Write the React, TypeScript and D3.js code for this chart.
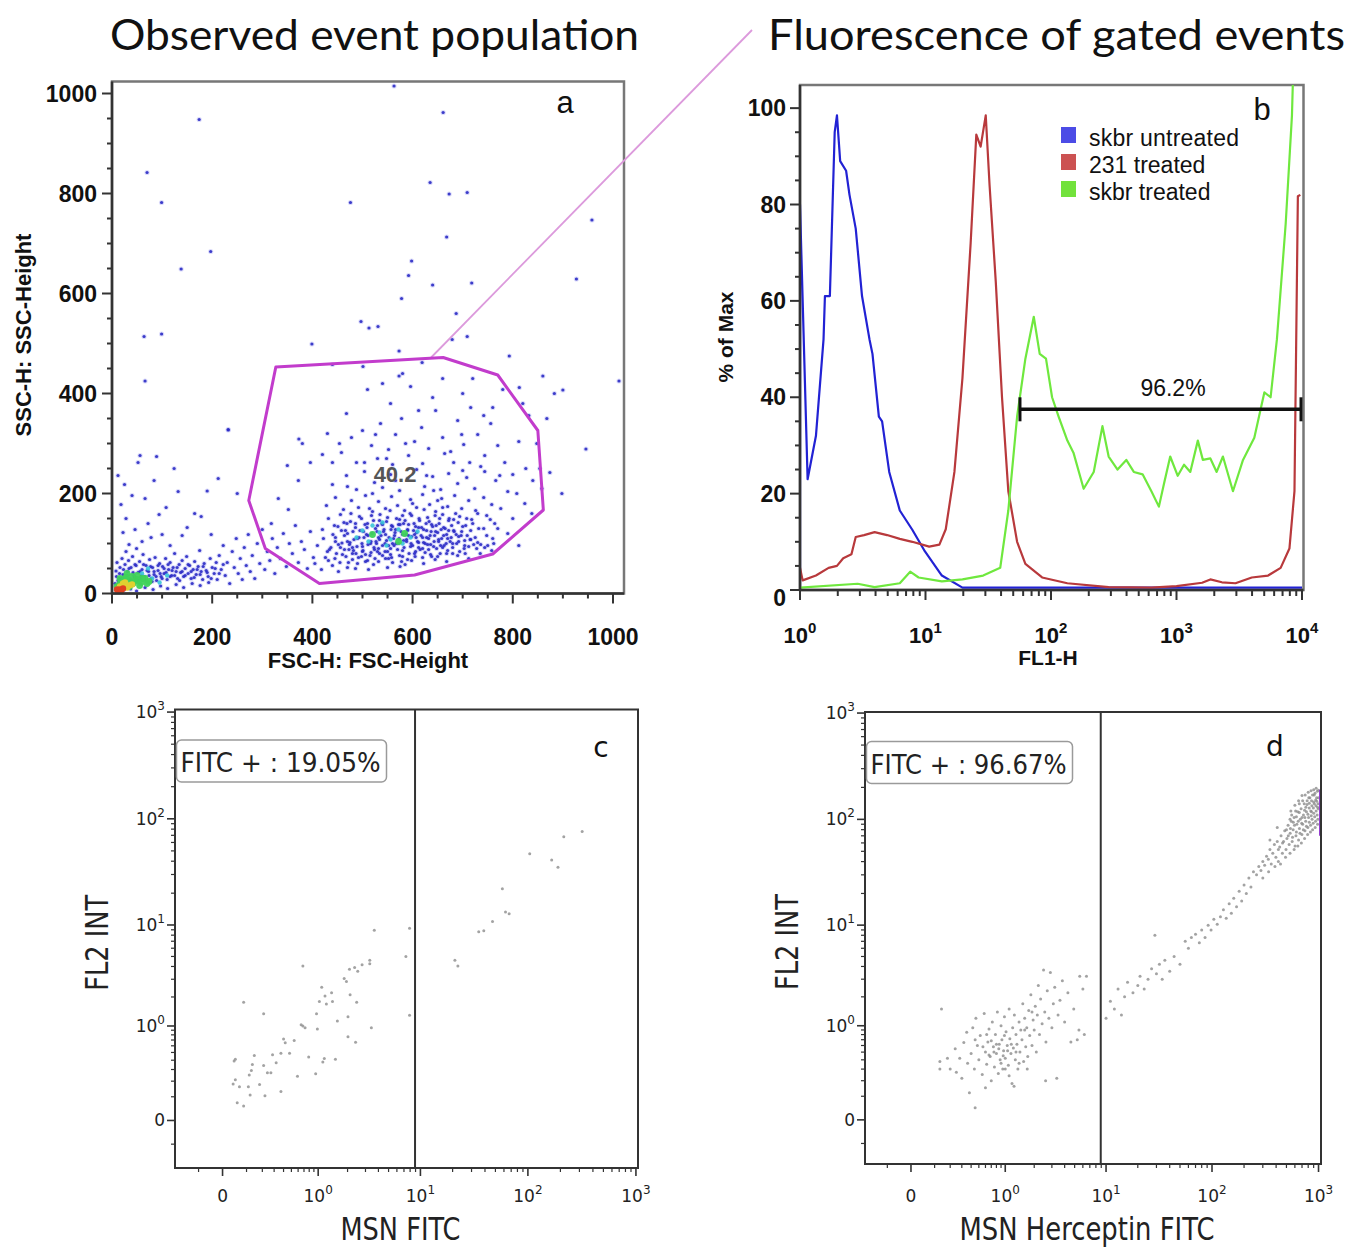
import React from 'react';
import * as d3 from 'd3';

type Pt = [number, number];

// ---------------- panel a : FSC / SSC dot plot ----------------
const aTickValues = [0, 200, 400, 600, 800, 1000];

// sparse / blue events
const aEvents: Pt[] = [
  // lower-left debris
  [8,45],[10,62],[14,30],[16,52],[20,70],[22,38],[26,58],[28,84],[31,44],[33,66],[36,28],[38,52],[41,74],[44,36],[46,58],[49,90],
  [52,42],[55,64],[57,30],[60,48],[62,78],[65,34],[68,56],[70,22],[73,44],[75,68],[78,30],[81,52],[84,38],[86,72],[89,26],[92,46],
  [95,60],[98,34],[101,54],[104,40],[107,70],[110,28],[113,48],[116,62],[119,36],[122,52],[125,80],[128,44],[131,30],[134,58],
  [137,42],[140,66],[143,34],[146,50],[149,74],[152,40],[155,56],[158,30],[162,48],[165,64],[168,38],[172,54],[175,86],[178,44],
  [181,28],[184,60],[188,46],[192,34],[196,70],[200,52],[204,40],[208,62],
  [6,20],[9,34],[12,26],[15,40],[19,30],[23,48],[27,24],[30,36],[34,50],[38,22],[42,42],[45,32],[48,56],[52,26],[56,44],[59,36],
  [63,58],[66,28],[70,46],[74,36],[77,54],[80,24],[84,44],[88,34],[92,56],[96,40],[100,30],[104,50],[108,42],[112,58],[116,34],
  [120,46],[125,36],[130,52],[135,26],[140,44],[146,36],[152,58],[158,44],[164,32],[170,48],[176,38],[182,54],[190,42],[198,30],
  [206,50],[214,40],[222,58],[22,6],[37,9],[49,5],[66,12],[82,8],[97,15],[111,10],[128,18],[143,12],[160,20],[176,16],[193,22],
  [12,236],[18,178],[22,122],[25,218],[28,150],[34,98],[40,196],[46,128],[52,262],[56,276],[60,104],[66,190],[72,140],[78,112],
  [84,226],[89,274],[94,158],[100,118],[108,172],[116,96],[124,250],[132,204],[140,116],[150,132],[165,160],[178,154],[190,205],
  [198,118],[212,230],[232,328],[250,200],
  // trail towards the cells
  [210,28],[214,76],[218,48],[222,96],[226,36],[230,62],[235,20],[240,84],[244,52],[248,110],[252,40],[256,70],[260,28],[264,92],
  [268,56],[272,118],[276,44],[280,76],[285,30],[290,100],[295,60],[300,128],[305,48],[310,84],[315,66],[320,110],[325,40],[330,92],
  [336,70],[342,120],[348,54],[354,100],[360,80],[366,136],[372,62],[378,104],[384,88],[390,50],[396,124],[402,72],
  // main cell population
  [405,60],[418,48],[426,72],[440,56],[452,44],[460,78],[472,62],[486,50],[498,74],[510,66],[522,58],[534,80],[546,70],[560,62],
  [574,76],[590,68],[604,80],[620,72],[636,78],[650,74],[668,80],[430,84],[445,70],[480,80],[515,76],[550,52],[585,58],
  [410,96],[422,110],[434,88],[446,104],[456,92],[464,116],[474,98],[482,86],[490,110],[500,94],[508,118],[516,100],[524,88],
  [532,112],[540,96],[548,106],[556,90],[564,116],[572,100],[580,86],[588,108],[596,94],[604,118],[612,102],[620,90],[628,112],
  [636,98],[644,116],[652,104],[660,92],[670,110],[680,100],[692,114],[704,96],[716,108],[730,102],[744,92],[760,110],[470,104],
  [528,100],[560,100],[592,116],[625,100],[500,84],[545,84],
  [420,128],[432,150],[444,136],[456,158],[466,126],[476,144],[486,132],[494,154],[502,124],[510,140],[518,156],[526,130],
  [534,146],[542,124],[550,152],[558,136],[566,128],[574,148],[582,140],[590,126],[598,156],[606,134],[614,146],[622,128],
  [630,152],[638,138],[646,124],[654,150],[662,132],[672,146],[682,126],[694,154],[706,136],[718,148],[732,130],[748,156],
  [764,140],[540,138],[580,156],[612,132],[660,158],
  [428,176],[446,192],[462,168],[478,186],[492,172],[506,196],[520,164],[532,184],[546,170],[558,194],[570,176],[584,166],
  [596,188],[608,172],[620,198],[634,178],[646,164],[658,190],[670,174],[684,196],[698,170],[712,186],[726,166],[742,192],
  [758,178],[776,170],[520,200],[600,180],[650,186],
  [440,218],[468,236],[488,208],[504,244],[524,222],[540,212],[556,238],[574,206],[590,230],[608,248],[624,214],[640,234],
  [656,208],[672,240],[690,220],[708,232],[724,210],[744,244],[766,226],[790,204],[504,262],[530,270],[560,258],[548,270],
  [432,66],[437,92],[441,118],[448,80],[451,134],[455,62],[459,101],[463,142],[467,74],[470,120],[473,88],[477,160],[480,68],
  [483,108],[486,140],[489,94],[492,72],[495,126],[498,150],[501,86],[503,112],[506,64],[509,132],[511,98],[514,170],[517,82],
  [519,120],[522,146],[525,70],[527,104],[530,136],[532,90],[535,158],[537,116],[540,76],[543,128],[545,100],[548,144],[550,84],
  [553,112],[555,166],[558,72],[560,134],[563,96],[565,122],[568,150],[570,88],[573,110],[575,138],[578,64],[580,118],[583,92],
  [585,146],[588,104],[590,128],[593,80],[595,160],[598,114],[600,96],[603,140],[605,74],[608,122],[610,104],[613,150],[615,88],
  [618,132],[620,112],[623,168],[625,82],[628,126],[630,98],[633,144],[635,116],[638,74],[640,134],[643,104],[645,156],[648,90],
  [650,122],[653,140],[655,80],[658,110],[660,172],[663,96],[665,130],[668,118],[670,86],[673,150],[675,104],[678,136],[680,92],
  [683,124],[686,160],[688,100],[691,142],[694,84],[697,116],[700,134],[704,106],[708,150],[712,94],[716,126],[720,140],
  [725,112],[730,160],[736,98],[742,130],[748,116],[755,148],[762,100],[770,130],
  [446,112],[452,98],[458,126],[464,88],[469,140],[475,102],[481,124],[487,80],[493,112],[499,100],[505,138],[511,116],[517,104],
  [523,92],[529,124],[534,108],[539,140],[546,118],[552,96],[557,128],[562,110],[567,100],[572,138],[577,124],[582,106],[587,118],
  [592,138],[597,100],[602,126],[607,112],[612,92],[617,116],[622,102],[627,140],[632,110],[637,124],[642,94],[647,136],[652,108],
  [657,128],[662,116],[667,100],[672,126],[677,112],[682,148],[687,118],[692,104],[698,124],[703,90],[709,116],[715,108],[722,98],
  [470,52],[490,60],[512,48],[532,64],[552,70],[575,54],[598,66],[622,60],[645,68],[668,64],[690,76],[712,70],[735,80],[758,86],
  [480,92],[506,78],[530,84],[556,78],[580,74],[606,84],[632,88],[656,96],[680,80],[705,80],[728,90],[750,96],
  // halo
  [332,190],[352,168],[318,140],[372,226],[396,262],[420,278],[454,300],[478,312],[500,326],[518,296],[536,340],[552,288],
  [566,318],[578,350],[592,276],[604,304],[618,332],[632,290],[646,366],[660,312],[676,284],[690,346],[702,298],[716,372],
  [730,318],[744,276],[756,340],[770,296],[784,262],[800,238],[812,304],[826,250],[840,226],[780,408],[700,400],[640,392],
  [596,414],[556,380],[510,408],[468,360],[430,320],[380,300],[350,256],[440,262],[620,260],[682,262],[736,254],[660,430],
  [580,440],[540,420],[720,430],[760,372],[820,380],[848,300],[858,210],[824,180],[800,150],[790,120],[812,96],[838,160],
  [854,250],[874,242],[832,356],[868,350],[458,282],[586,300],[612,366],[698,318],[742,356],[526,318],[488,262],[628,236],
  [664,280],[714,262],[774,236],[808,200],[470,214],[642,206],[700,246],[566,226],
  // outliers
  [174,948],[70,842],[99,782],[197,684],[138,649],[64,514],[99,519],[66,425],[563,1015],[661,962],[635,822],[673,799],
  [709,802],[476,782],[668,713],[598,665],[592,636],[640,617],[718,621],[578,590],[687,560],[497,544],[513,531],[531,534],
  [709,514],[399,499],[679,508],[793,475],[958,747],[927,629],[1012,425],[883,400],[900,407],[946,289],[898,200],[813,412],
  [860,435],[232,327],[373,309],[440,458],[573,485],[619,462],[573,435],[501,454],
];
const aDenseCyan: Pt[] = [
  [488,112],[512,104],[534,122],[556,108],[572,128],[596,112],[520,136],[548,96],[580,100],[610,124],[500,126],[540,142],
  [60,40],[80,30],[95,22],[110,36],[72,50],
];
const aDenseGreen: Pt[] = [
  [520,118],[572,104],[584,120],
  [15,18],[25,28],[35,14],[45,24],[55,16],[60,30],[30,40],[50,36],[70,20],[20,10],
  [10,14],[18,22],[26,16],[34,26],[42,20],[50,28],[58,22],[66,30],[74,24],[40,34],[28,32],[16,30],
];
const aHotYellow: Pt[] = [[14,10],[22,20],[30,12],[40,18],[16,14],[26,22],[34,16]];
const aHotRed: Pt[] = [[12,6],[18,4],[10,8],[16,8],[22,10]];
const aGate: Pt[] = [
  [327,453],[661,472],[770,437],[850,326],[861,167],[760,79],[604,37],[414,20],[306,90],[273,186],
];
const aGatePercent = '40.2';
const aGateLabelAt: Pt = [565, 240];
const aGateLinkFrom: Pt = [637, 472];

// ---------------- panel b : FL1 histograms ----------------
const bPercentTicks = [0, 20, 40, 60, 80, 100];
const bDecades = [1, 10, 100, 1000, 10000];
const bUntreated: Pt[] = [
  [1,0],[1,80],[1.15,23],[1.34,32],[1.54,52],[1.58,61],[1.73,61],[1.89,95],[1.97,98.5],[2.09,89],[2.33,87],[2.48,82],
  [2.78,75],[3.12,61],[3.58,52],[3.78,49],[4.25,36],[4.51,35],[5.14,24.5],[6.24,16.5],[7.85,12.5],[9.9,8],[13.5,3],
  [19.7,0.5],[10000,0.5],
];
const b231: Pt[] = [
  [1,4.6],[1.05,2],[1.34,3],[1.69,4.6],[1.97,5],[2.21,6.6],[2.57,7.4],[2.78,11],[3.24,11.4],[3.93,12],[4.94,11.4],
  [6.24,10.6],[7.85,10],[10.7,9],[12.9,9.4],[14.5,12.6],[17,24.5],[19.7,44],[22.9,72],[25.4,94.5],[27.5,92],[30.2,98.5],
  [32.4,84],[36.3,64],[40.7,40],[45.7,20.5],[53.7,10],[62.5,5.4],[85,2.6],[135,1.4],[288,0.6],[630,0.5],[1000,0.8],
  [1600,1.5],[1860,2.2],[2300,1.6],[2950,1.4],[3980,2.6],[5370,3],[6760,4.6],[7940,8.6],[8710,20.5],[9270,81.7],[9700,82],
];
const bTreated: Pt[] = [
  [1,0.5],[2.88,1.3],[3.93,0.6],[6.24,1.4],[7.55,3.8],[8.81,2.6],[13.5,1.8],[19.7,2.2],[28.8,3],[39.4,4.6],[45.7,16.5],
  [53.7,36],[62.5,48],[72.9,56.7],[81.3,49],[91.2,48],[102,40],[115,36],[135,31],[151,28.5],[182,21],[219,24.5],[257,34],
  [288,27.7],[339,25],[398,27],[457,24.5],[537,24],[631,20.5],[724,17.3],[794,22],[891,27.7],[1023,23.7],[1148,26],
  [1288,24.5],[1479,31],[1622,27],[1862,27.3],[2089,24.5],[2344,27.7],[2818,20.5],[3388,27],[4169,31.6],[5012,41],
  [5623,40],[6310,52],[7413,76],[8318,98.5],[8511,108],
];
const bSeriesNames = ['skbr untreated', '231 treated', 'skbr treated'];
const bGateRange: Pt = [56.6, 10000];
const bGateLevel = 37.5;
const bGateText = '96.2%';

// ---------------- panels c / d : FL2 vs FITC ----------------
const flowMajor = [0, 1, 10, 100, 1000];
const cEvents: Pt[] = [
  [0.042,0.39],[0.047,0.41],[0.038,0.18],[0.055,0.07],[0.065,0.16],[0.085,0.055],[0.047,0.21],[0.115,0.25],[0.12,0.11],
  [0.127,0.29],[0.11,0.16],[0.145,0.46],[0.133,0.35],[0.18,0.175],[0.21,0.34],[0.22,0.105],[0.24,0.27],[0.27,0.27],
  [0.285,0.47],[0.32,0.37],[0.37,0.49],[0.37,0.13],[0.4,0.72],[0.42,0.65],[0.475,0.49],[0.54,0.69],[0.59,0.24],[0.65,1.03],
  [0.68,1.0],[0.72,0.96],[0.79,0.44],[0.94,0.26],[0.98,0.93],[0.96,1.35],[1.03,1.8],[1.09,2.5],[1.12,0.38],[1.16,0.42],
  [1.18,2.05],[1.22,1.7],[1.38,2.2],[1.41,1.8],[1.51,0.41],[1.58,1.13],[1.85,3.05],[1.95,2.85],[2.02,1.25],[2.02,0.76],
  [2.09,3.75],[2.12,2.1],[2.35,3.9],[2.4,0.66],[2.46,1.77],[2.52,3.6],[2.78,4.15],[3.3,4.6],[3.3,4.25],[3.42,0.96],
  [3.65,8.9],[0.085,1.77],[0.21,1.35],[0.68,4.05],[7.3,5.0],[7.9,9.3],[7.9,1.3],[21,4.6],[22.4,4.05],[35,8.6],[39,8.8],
  [47,10.8],[58,22],[62,13.3],[67,12.8],[104,47],[166,41],[190,35],[215,68],[318,76],
];
const dEvents: Pt[] = [
  // negative population
  [0.13,0.38],[0.18,0.42],[0.2,0.3],[0.24,0.55],[0.28,0.42],[0.3,0.22],[0.32,0.65],[0.36,0.36],[0.38,0.12],[0.4,0.48],
  [0.42,0.95],[0.44,0.3],[0.46,1.2],[0.48,0.6],[0.5,0.4],[0.52,0.78],[0.55,0.25],[0.58,1.35],[0.6,0.5],[0.62,0.35],
  [0.64,0.66],[0.66,0.92],[0.68,0.44],[0.7,0.2],[0.72,1.1],[0.74,0.58],[0.76,0.32],[0.78,0.8],[0.8,0.48],[0.82,1.4],
  [0.84,0.26],[0.86,0.62],[0.88,0.4],[0.9,1.0],[0.92,0.7],[0.94,0.3],[0.96,0.52],[0.98,1.25],[1.0,0.42],[1.02,0.86],
  [1.05,0.6],[1.08,0.34],[1.1,1.5],[1.12,0.72],[1.15,0.48],[1.18,0.18],[1.2,0.95],[1.22,0.56],[1.25,1.3],[1.28,0.4],
  [1.3,0.8],[1.33,0.62],[1.36,0.3],[1.4,1.1],[1.43,0.5],[1.46,0.9],[1.5,0.7],[1.53,1.7],[1.56,0.38],[1.6,1.2],[1.64,0.58],
  [1.68,0.95],[1.72,0.44],[1.76,1.45],[1.8,0.78],[1.85,2.1],[1.9,0.6],[1.95,1.15],[2.0,0.9],[2.05,1.6],[2.1,0.5],
  [2.15,1.3],[2.2,2.6],[2.26,0.8],[2.32,1.9],[2.4,1.05],[2.48,3.7],[2.55,1.4],[2.62,0.66],[2.7,2.3],[2.8,1.2],[2.9,3.5],
  [3.0,0.95],[3.1,1.7],[3.2,2.5],[3.35,0.22],[3.45,1.3],[3.6,1.85],[3.8,2.9],[4.0,1.1],[4.3,2.2],[4.6,0.66],[4.9,1.5],
  [5.3,0.7],[5.6,3.2],[0.56,0.58],[0.66,0.46],[0.75,0.5],[0.85,0.55],[0.95,0.45],[1.06,0.52],[1.16,0.62],[0.7,0.68],
  [0.9,0.36],[1.0,0.3],[1.1,0.24],[0.8,0.62],[1.3,0.5],[1.4,0.36],[0.62,0.8],[0.98,0.78],[1.6,0.9],[1.9,1.4],[0.45,0.7],
  [0.35,0.85],[1.24,0.16],[1.7,0.3],[0.6,0.15],[2.6,0.2],[0.14,1.5],[0.13,0.3],[0.25,0.27],[0.45,0.045],[5.5,0.9],
  [6.0,2.4],[6.5,3.2],[6.2,0.8],
  // diagonal towards the positive population
  [10,1.2],[11,1.8],[12,1.5],[13,2.4],[14,1.3],[15,2.0],[16,2.8],[18,2.2],[20,2.6],[21,3.2],[23,2.4],[25,3.0],[27,3.8],
  [29,8.0],[30,3.4],[32,4.2],[34,3.0],[36,4.6],[40,3.6],[44,5.0],[50,4.2],[56,7.0],[60,6.0],[64,7.6],[70,8.2],[76,6.8],
  [80,9.0],[86,7.6],[92,10],[98,9.0],[104,11.4],[112,10.2],[120,12],[128,14],[136,11.6],[145,16],[152,13],[160,18],
  [170,15],[180,21],[190,17],[200,24],[210,20],[222,28],[232,23],[245,32],
  // positive population
  [262,30],[275,36],[288,33],[300,40],[312,37],[325,45],[338,42],[350,52],[360,38],[372,48],[385,58],[398,44],[410,62],
  [420,40],[432,55],[445,70],[458,48],[470,62],[482,78],[495,52],[505,66],[518,88],[530,58],[542,74],[555,96],[566,62],
  [578,80],[590,104],[602,56],[614,70],[626,90],[638,118],[650,64],[662,82],[674,100],[686,126],[698,72],[710,90],
  [722,110],[734,140],[746,78],[758,96],[770,118],[782,150],[794,84],[806,104],[818,128],[830,160],[842,88],[854,108],
  [866,134],[878,170],[890,92],[902,114],[914,140],[926,176],[938,96],[950,120],[962,148],[974,184],[986,100],[995,126],
  [998,160],[1000,188],[520,70],[545,82],[570,68],[595,88],[620,76],[645,96],[670,74],[695,92],[720,80],[745,104],
  [770,86],[795,112],[820,94],[845,120],[870,100],[895,128],[920,106],[945,134],[970,110],[990,140],[560,110],[610,120],
  [660,140],[710,150],[760,130],[810,160],[860,150],[910,170],[960,160],[880,80],[930,84],[980,90],[840,76],[790,72],
  [740,66],[690,60],[640,56],[590,52],[540,48],[490,44],[440,38],[390,36],[340,32],[300,28],[420,52],[460,60],[500,80],
  [540,100],[580,94],[620,106],[660,116],[700,104],[740,122],[780,138],[820,142],[860,118],[900,146],[940,152],[980,130],
  [350,64],[410,84],[550,120],[600,136],[650,150],[700,168],[750,170],[800,180],[850,186],[900,190],[950,196],
];
const dEdge: Pt[] = [[1040,70],[1040,190]];
const fitcGate = 8.9;
const cPositive = 'FITC + : 19.05%';
const dPositive = 'FITC + : 96.67%';

// ---------------- layout ----------------
const FONT_A = "'Liberation Sans', Arial, Helvetica, sans-serif";
const FONT_C = "'DejaVu Sans', Verdana, sans-serif";
const FONT_T = "Lato, 'Open Sans', 'Noto Sans', sans-serif";

const aX = d3.scaleLinear().domain([0, 1022]).range([112, 624]);
const aY = d3.scaleLinear().domain([0, 1024]).range([593.5, 81.5]);

const bX = d3.scaleLog().domain([1, 10000]).range([800, 1302]);
const bY = d3.scaleLinear().domain([0, 104.8]).range([590, 85]);
const bLine = d3.line<Pt>().x(d => bX(d[0])).y(d => bY(d[1]));

const sup = (v: number) => String(Math.round(Math.log10(v)));

function PanelA() {
  const minor = d3.range(0, 1001, 50);
  const [x0, x1] = aX.range();
  const [y0, y1] = aY.range();
  const dot = (pts: Pt[], fill: string, r: number, op: number) =>
    pts.map((p, i) => <circle key={fill + i} cx={aX(p[0])} cy={aY(p[1])} r={r} fill={fill} opacity={op} />);
  return (
    <g>
      <rect x={x0} y={y1} width={x1 - x0} height={y0 - y1} fill="none" stroke="#777" strokeWidth={2.5} />
      <clipPath id="aClip"><rect x={x0} y={y1} width={x1 - x0} height={y0 - y1} /></clipPath>
      <g clipPath="url(#aClip)">
        {dot(aEvents, '#9a9af0', 2.6, 0.35)}
        {dot(aEvents, '#2a2ac4', 1.6, 0.9)}
        {dot(aDenseCyan, '#38c4d8', 2.2, 0.9)}
        {dot(aDenseGreen, '#3fd25a', 3.4, 0.95)}
        {dot(aHotYellow, '#e0d030', 3.2, 1)}
        {dot(aHotRed, '#e04020', 3.2, 1)}
      </g>
      {minor.map(v => (
        <g key={'am' + v} stroke="#333" strokeWidth={2}>
          <line x1={x0} x2={x0 - (v % 200 === 0 ? 10 : 5)} y1={aY(v)} y2={aY(v)} />
          <line y1={y0} y2={y0 + (v % 200 === 0 ? 10 : 5)} x1={aX(v)} x2={aX(v)} />
        </g>
      ))}
      <line x1={x0} x2={x0} y1={y0} y2={y1} stroke="#333" strokeWidth={2.5} />
      <line x1={x0} x2={x1} y1={y0} y2={y0} stroke="#333" strokeWidth={2.5} />
      {aTickValues.map(v => (
        <g key={'at' + v} fontFamily={FONT_A} fontWeight="bold" fontSize={23} fill="#111">
          <text x={x0 - 15} y={aY(v) + 8} textAnchor="end">{v}</text>
          <text x={aX(v)} y={645} textAnchor="middle">{v}</text>
        </g>
      ))}
      <text x={(x0 + x1) / 2} y={668} textAnchor="middle" fontFamily={FONT_A} fontWeight="bold" fontSize={22} fill="#111">FSC-H: FSC-Height</text>
      <text transform="translate(31,335) rotate(-90)" textAnchor="middle" fontFamily={FONT_A} fontWeight="bold" fontSize={22} fill="#111">SSC-H: SSC-Height</text>
      <line x1={aX(aGateLinkFrom[0])} y1={aY(aGateLinkFrom[1])} x2={752} y2={30} stroke="#dc9adc" strokeWidth={1.8} />
      <polygon points={aGate.map(p => `${aX(p[0])},${aY(p[1])}`).join(' ')} fill="none" stroke="#c23ccc" strokeWidth={3} strokeLinejoin="round" />
      <text x={aX(aGateLabelAt[0])} y={aY(aGateLabelAt[1]) + 8} textAnchor="middle" fontFamily={FONT_A} fontWeight="bold" fontSize={22} fill="#555">{aGatePercent}</text>
      <text x={565} y={113} textAnchor="middle" fontFamily={FONT_A} fontSize={31} fill="#111">a</text>
    </g>
  );
}

function PanelB() {
  const [x0, x1] = [800, 1303.5];
  const [y0, y1] = bY.range();
  const minorX = [1, 10, 100, 1000].flatMap(p => d3.range(2, 10).map(k => k * p));
  const minorY = d3.range(0, 101, 5);
  const series = [
    { name: bSeriesNames[0], data: bUntreated, line: '#2222d4', key: '#4c4ce6' },
    { name: bSeriesNames[1], data: b231, line: '#b8393c', key: '#cc5252' },
    { name: bSeriesNames[2], data: bTreated, line: '#6fe83e', key: '#72e23c' },
  ];
  const gy = bY(bGateLevel);
  return (
    <g>
      <clipPath id="bClip"><rect x={x0} y={y1} width={x1 - x0} height={y0 - y1} /></clipPath>
      <rect x={x0} y={y1} width={x1 - x0} height={y0 - y1} fill="none" stroke="#777" strokeWidth={2.5} />
      <g clipPath="url(#bClip)">
        {series.map(s => (
          <path key={s.name} d={bLine(s.data) || ''} fill="none" stroke={s.line} strokeWidth={2.2} strokeLinejoin="round" />
        ))}
      </g>
      {minorY.map(v => (
        <line key={'by' + v} x1={x0} x2={x0 - (v % 20 === 0 ? 10 : 5)} y1={bY(v)} y2={bY(v)} stroke="#333" strokeWidth={2} />
      ))}
      {bDecades.concat(minorX).map(v => (
        <line key={'bx' + v} x1={bX(v)} x2={bX(v)} y1={y0} y2={y0 + (bDecades.includes(v) ? 10 : 6)} stroke="#333" strokeWidth={2} />
      ))}
      <line x1={x0} x2={x0} y1={y0} y2={y1} stroke="#333" strokeWidth={2.5} />
      <line x1={x0} x2={x1} y1={y0} y2={y0} stroke="#333" strokeWidth={2.5} />
      {bPercentTicks.map(v => (
        <text key={'byl' + v} x={786} y={bY(v) + 8 + (v === 0 ? 8 : 0)} textAnchor="end" fontFamily={FONT_A} fontWeight="bold" fontSize={23} fill="#111">{v}</text>
      ))}
      {bDecades.map(v => (
        <text key={'bxl' + v} x={bX(v)} y={643} textAnchor="middle" fontFamily={FONT_A} fontWeight="bold" fontSize={22} fill="#111">
          10<tspan dy={-10} fontSize={15}>{sup(v)}</tspan>
        </text>
      ))}
      <text x={1048} y={665} textAnchor="middle" fontFamily={FONT_A} fontWeight="bold" fontSize={21} fill="#111">FL1-H</text>
      <text transform="translate(733,337) rotate(-90)" textAnchor="middle" fontFamily={FONT_A} fontWeight="bold" fontSize={21} fill="#111">% of Max</text>
      {series.map((s, i) => (
        <g key={'lg' + s.name}>
          <rect x={1061} y={127 + i * 27} width={15} height={16} fill={s.key} />
          <text x={1089} y={146 + i * 27} fontFamily={FONT_A} fontSize={23} fill="#111" textLength={i === 0 ? 150 : undefined}>{s.name}</text>
        </g>
      ))}
      <line x1={bX(bGateRange[0])} x2={bX(bGateRange[1])} y1={gy} y2={gy} stroke="#111" strokeWidth={3.5} />
      <line x1={bX(bGateRange[0])} x2={bX(bGateRange[0])} y1={gy - 12} y2={gy + 12} stroke="#111" strokeWidth={3} />
      <line x1={bX(bGateRange[1]) - 1} x2={bX(bGateRange[1]) - 1} y1={gy - 12} y2={gy + 12} stroke="#111" strokeWidth={3} />
      <text x={1173} y={396} textAnchor="middle" fontFamily={FONT_A} fontSize={23} fill="#111">{bGateText}</text>
      <text x={1262} y={120} textAnchor="middle" fontFamily={FONT_A} fontSize={31} fill="#111">b</text>
    </g>
  );
}

type FlowProps = {
  id: string;
  xs: d3.ScaleSymLog<number, number>;
  ys: d3.ScaleSymLog<number, number>;
  events: Pt[];
  edge?: Pt[];
  box: [number, number, number];
  boxText: string;
  letter: string;
  letterAt: Pt;
  xTitle: string;
  xTitleWidth: number;
};

function FlowPanel({ id, xs, ys, events, edge, box, boxText, letter, letterAt, xTitle, xTitleWidth }: FlowProps) {
  const [x0, x1] = xs.range();
  const [y0, y1] = ys.range();
  const minor = [-0.1, ...d3.range(1, 10).map(k => k / 10), ...[1, 10, 100].flatMap(p => d3.range(2, 10).map(k => k * p))];
  const lab = (v: number) => (v === 0 ? '0' : null);
  const gx = xs(fitcGate);
  return (
    <g>
      <clipPath id={id + 'Clip'}><rect x={x0} y={y1} width={x1 - x0} height={y0 - y1} /></clipPath>
      <g clipPath={`url(#${id}Clip)`}>
        {events.map((p, i) => (
          <circle key={id + i} cx={xs(p[0])} cy={ys(p[1])} r={1.5} fill="#8c8c8c" opacity={0.8} />
        ))}
        {edge && (
          <line x1={xs(edge[0][0])} x2={xs(edge[1][0])} y1={ys(edge[0][1])} y2={ys(edge[1][1])} stroke="#8a2ccc" strokeWidth={2.5} />
        )}
      </g>
      <rect x={x0} y={y1} width={x1 - x0} height={y0 - y1} fill="none" stroke="#333" strokeWidth={2} />
      <line x1={gx} x2={gx} y1={y1} y2={y0} stroke="#333" strokeWidth={2} />
      {minor.concat(flowMajor).map(v => {
        const major = flowMajor.includes(v);
        return (
          <g key={id + 't' + v} stroke="#333" strokeWidth={major ? 1.6 : 1.2}>
            <line x1={x0} x2={x0 - (major ? 8 : 4)} y1={ys(v)} y2={ys(v)} />
            <line x1={xs(v)} x2={xs(v)} y1={y0} y2={y0 + (major ? 8 : 4)} />
          </g>
        );
      })}
      {flowMajor.map(v => (
        <g key={id + 'l' + v} fontFamily={FONT_C} fontSize={17} fill="#222">
          <text x={x0 - 10} y={ys(v) + 6} textAnchor="end">
            {lab(v) ?? <>10<tspan dy={-8} fontSize={12}>{sup(v)}</tspan></>}
          </text>
          <text x={xs(v)} y={1202} textAnchor="middle">
            {lab(v) ?? <>10<tspan dy={-8} fontSize={12}>{sup(v)}</tspan></>}
          </text>
        </g>
      ))}
      <rect x={box[0]} y={box[1]} width={box[2]} height={42} rx={5} fill="#fff" stroke="#9a9a9a" strokeWidth={1.5} />
      <text x={box[0] + 4} y={box[1] + 32} fontFamily={FONT_C} fontSize={27} fill="#222" textLength={box[2] - 10} lengthAdjust="spacingAndGlyphs">{boxText}</text>
      <text x={letterAt[0]} y={letterAt[1]} textAnchor="middle" fontFamily={FONT_C} fontSize={28} fill="#111">{letter}</text>
      <text x={(x0 + x1) / 2 - 6} y={1240} textAnchor="middle" fontFamily={FONT_C} fontSize={32} fill="#222" textLength={xTitleWidth} lengthAdjust="spacingAndGlyphs">{xTitle}</text>
      <text transform={`translate(${x0 - 67},${(y0 + y1) / 2 + 4}) rotate(-90)`} textAnchor="middle" fontFamily={FONT_C} fontSize={32} fill="#222" textLength={96} lengthAdjust="spacingAndGlyphs">FL2 INT</text>
    </g>
  );
}

const cX = d3.scaleSymlog().constant(0.15).domain([-0.263, 1045]).range([175, 638]);
const cY = d3.scaleSymlog().constant(0.15).domain([-0.268, 1057]).range([1168, 709.5]);
const dX = d3.scaleSymlog().constant(0.15).domain([-0.255, 1055]).range([865, 1321]);
const dY = d3.scaleSymlog().constant(0.15).domain([-0.24, 1023]).range([1164, 712]);

export default function App() {
  return (
    <svg width={1347} height={1247} style={{ position: 'absolute', left: 0, top: 0, background: '#fff' }}>
      <rect width={1347} height={1247} fill="#fff" />
      <text x={110} y={50} fontFamily={FONT_T} fontSize={42} fill="#111" textLength={529} lengthAdjust="spacingAndGlyphs">Observed event population</text>
      <text x={768} y={50} fontFamily={FONT_T} fontSize={42} fill="#111" textLength={577} lengthAdjust="spacingAndGlyphs">Fluorescence of gated events</text>
      <PanelA />
      <PanelB />
      <FlowPanel id="c" xs={cX} ys={cY} events={cEvents} box={[176.5, 740, 210]} boxText={cPositive}
        letter="c" letterAt={[601, 757]} xTitle="MSN FITC" xTitleWidth={120} />
      <FlowPanel id="d" xs={dX} ys={dY} events={dEvents} edge={dEdge} box={[866.5, 741.5, 206]} boxText={dPositive}
        letter="d" letterAt={[1275, 756]} xTitle="MSN Herceptin FITC" xTitleWidth={255} />
    </svg>
  );
}
